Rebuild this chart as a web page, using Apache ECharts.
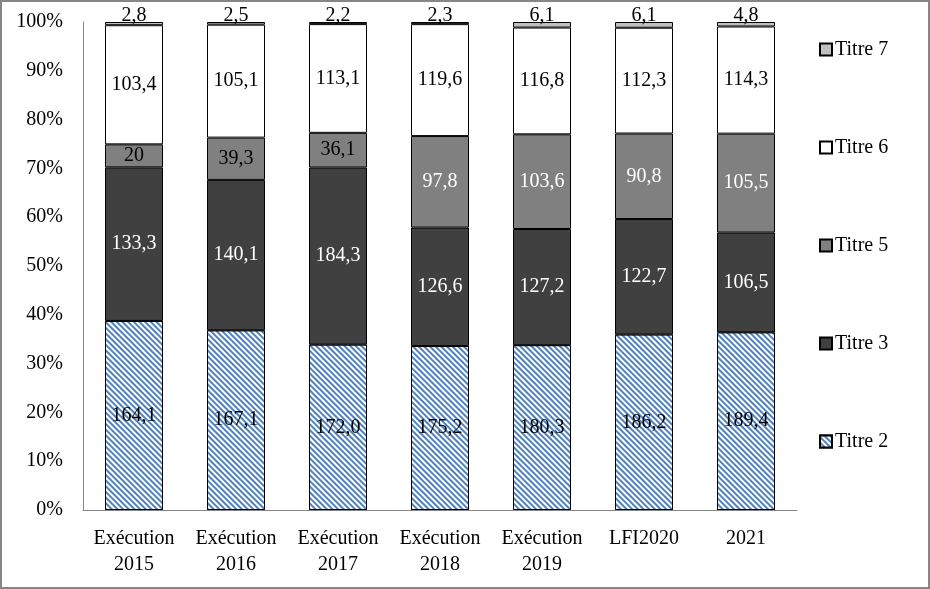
<!DOCTYPE html>
<html><head><meta charset="utf-8">
<script src="https://cdn.jsdelivr.net/npm/echarts@6/dist/echarts.min.js"></script>
<style>html,body{margin:0;padding:0;background:#fff}#c{width:930px;height:589px}</style>
</head><body><div id="c"></div>
<script>
const categories = ['Exécution\n2015','Exécution\n2016','Exécution\n2017','Exécution\n2018','Exécution\n2019','LFI2020','2021'];
const titre2 = [164.1, 167.1, 172.0, 175.2, 180.3, 186.2, 189.4];
const titre3 = [133.3, 140.1, 184.3, 126.6, 127.2, 122.7, 106.5];
const titre5 = [20, 39.3, 36.1, 97.8, 103.6, 90.8, 105.5];
const titre6 = [103.4, 105.1, 113.1, 119.6, 116.8, 112.3, 114.3];
const titre7 = [2.8, 2.5, 2.2, 2.3, 6.1, 6.1, 4.8];
const yTicks = [0,10,20,30,40,50,60,70,80,90,100];

const FONT = 'Liberation Serif';
const FS = 20;
const raw = [titre2, titre3, titre5, titre6, titre7];
const totals = categories.map((_, i) => raw.reduce((s, a) => s + a[i], 0));
const pct = a => a.map((v, i) => ({value: v / totals[i] * 100, raw: v}));
const fmt = (v, fixed) => (fixed ? v.toFixed(1) : String(v)).replace('.', ',');

function mk(name, arr, color) {
  return {
    name, type: 'bar', stack: 'all', barWidth: 58,
    data: pct(arr),
    itemStyle: {color, borderColor: '#000', borderWidth: 1},
    label: {show: true, position: 'inside', fontFamily: FONT, fontSize: FS,
      formatter: p => fmt(p.data.raw, name === 'Titre 2')},
    labelLayout: {hideOverlap: false}
  };
}

const series = [
  mk('Titre 2', titre2, '#ffffff'),
  mk('Titre 3', titre3, '#404040'),
  mk('Titre 5', titre5, '#808080'),
  mk('Titre 6', titre6, '#ffffff'),
  mk('Titre 7', titre7, '#c0c0c0')
];
series[0].itemStyle.decal = {symbol: 'rect', symbolSize: 1, dashArrayX: [1, 0], dashArrayY: [1.4, 1.4], rotation: Math.PI / 4, color: '#4f81bd', backgroundColor: '#ffffff'};
series[0].label.color = '#000';
series[1].label.color = '#fff';
series[2].data = titre5.map((v, i) => ({value: v / totals[i] * 100, raw: v, label: {color: v > 50 ? '#fff' : '#000'}}));
series[3].label.color = '#000';
series[4].label.position = 'top';
series[4].label.distance = -4;
series[4].label.color = '#000';

const chart = echarts.init(document.getElementById('c'), null, {renderer: 'canvas'});
chart.setOption({
  animation: false,
  backgroundColor: '#fff',
  grid: {left: 83, right: 133, top: 22, bottom: 79, containLabel: false},
  legend: {
    orient: 'vertical', top: 34, left: 814,
    data: ['Titre 7', 'Titre 6', 'Titre 5', 'Titre 3', 'Titre 2'],
    itemWidth: 12, itemHeight: 12, itemGap: 77, icon: 'rect',
    textStyle: {fontFamily: FONT, fontSize: FS, color: '#000', lineHeight: 21, padding: [0, 0, 0, -2]}
  },
  xAxis: {
    type: 'category', data: categories,
    axisLine: {lineStyle: {color: '#868686', width: 1}},
    axisTick: {show: false},
    axisLabel: {fontFamily: FONT, fontSize: FS, color: '#000', margin: 16, lineHeight: 26, interval: 0}
  },
  yAxis: {
    type: 'value', min: 0, max: 100, interval: 10,
    axisLine: {show: true, lineStyle: {color: '#868686', width: 1}},
    axisTick: {show: false},
    splitLine: {show: false},
    axisLabel: {fontFamily: FONT, fontSize: FS, color: '#000', margin: 20,
      formatter: v => yTicks.includes(v) ? v + '%' : ''}
  },
  graphic: [{type: 'rect', shape: {x: 1, y: 1, width: 928, height: 587}, style: {fill: 'none', stroke: '#868686', lineWidth: 2}, silent: true, z: 100}],
  series
});
</script></body></html>
